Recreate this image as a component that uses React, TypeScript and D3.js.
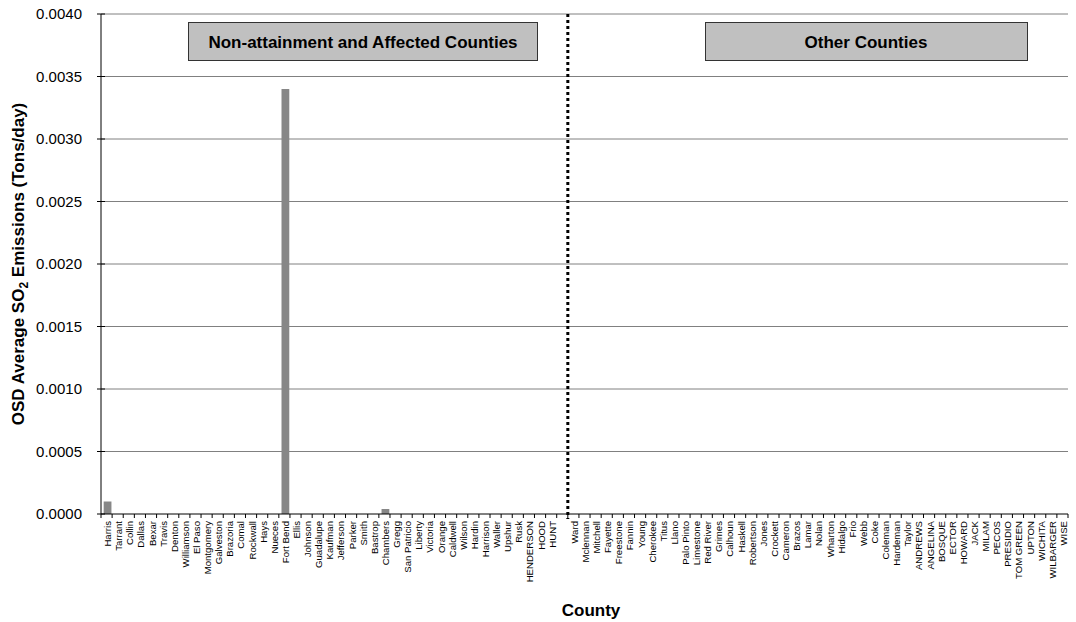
import React from "react";
import * as d3 from "d3";

const leftCounties = [
  "Harris", "Tarrant", "Collin", "Dallas", "Bexar", "Travis", "Denton", "Williamson", "El Paso",
  "Montgomery", "Galveston", "Brazoria", "Comal", "Rockwall", "Hays", "Nueces", "Fort Bend", "Ellis",
  "Johnson", "Guadalupe", "Kaufman", "Jefferson", "Parker", "Smith", "Bastrop", "Chambers", "Gregg",
  "San Patricio", "Liberty", "Victoria", "Orange", "Caldwell", "Wilson", "Hardin", "Harrison", "Waller",
  "Upshur", "Rusk", "HENDERSON", "HOOD", "HUNT",
];
const leftValues = [
  0.0001, 0, 0, 0, 0, 0, 0, 0, 0,
  0, 0, 0, 0, 0, 0, 0, 0.0034, 0,
  0, 0, 0, 0, 0, 0, 0, 0.00004, 0,
  0, 0, 0, 0, 0, 0, 0, 0, 0,
  0, 0, 0, 0, 0,
];
const rightCounties = [
  "Ward", "Mclennan", "Mitchell", "Fayette", "Freestone", "Fannin", "Young", "Cherokee", "Titus", "Llano",
  "Palo Pinto", "Limestone", "Red River", "Grimes", "Calhoun", "Haskell", "Robertson", "Jones", "Crockett",
  "Cameron", "Brazos", "Lamar", "Nolan", "Wharton", "Hidalgo", "Frio", "Webb", "Coke", "Coleman",
  "Hardeman", "Taylor", "ANDREWS", "ANGELINA", "BOSQUE", "ECTOR", "HOWARD", "JACK", "MILAM", "PECOS",
  "PRESIDIO", "TOM GREEN", "UPTON", "WICHITA", "WILBARGER", "WISE",
];
const rightValues = [
  0, 0, 0, 0, 0, 0, 0, 0, 0, 0,
  0, 0, 0, 0, 0, 0, 0, 0, 0,
  0, 0, 0, 0, 0, 0, 0, 0, 0, 0,
  0, 0, 0, 0, 0, 0, 0, 0, 0, 0,
  0, 0, 0, 0, 0, 0,
];
const yTicks = [0, 0.0005, 0.001, 0.0015, 0.002, 0.0025, 0.003, 0.0035, 0.004];
const groupLabels = ["Non-attainment and Affected Counties", "Other Counties"];

const GAP = "__gap";
const categories = [...leftCounties, GAP, ...rightCounties];
const values = [...leftValues, 0, ...rightValues];

const FONT = "Liberation Sans, Arial, sans-serif";

export default function App() {
  const W = 1076, H = 622;
  const left = 101, right = 1068, top = 14, bottom = 514;
  const x = d3.scaleBand<string>().domain(categories).range([left, right]).paddingInner(0.3).paddingOuter(0.15);
  const y = d3.scaleLinear().domain([0, 0.004]).range([bottom, top]);
  const step = x.step();
  const boundaries = d3.range(categories.length + 1).map((i) => left + i * step);
  const dividerX = left + (leftCounties.length + 1) * step;
  const fmt = d3.format(".4f");

  return (
    <svg width={W} height={H} style={{ position: "fixed", left: 0, top: 0, background: "#fff" }} fontFamily={FONT}>
      {yTicks.filter((t) => t > 0).map((t) => (
        <line key={"g" + t} x1={left} x2={right} y1={y(t)} y2={y(t)} stroke="#808080" strokeWidth={1} />
      ))}
      {categories.map((c, i) =>
        c === GAP || values[i] <= 0 ? null : (
          <rect key={"b" + c} x={(x(c) as number) + 1} y={y(values[i])} width={x.bandwidth()} height={bottom - y(values[i])} fill="#878787" />
        )
      )}
      <line x1={left} x2={left} y1={top} y2={bottom} stroke="#000" />
      {yTicks.map((t) => (
        <g key={"y" + t}>
          <line x1={left - 4} x2={left + 4} y1={y(t)} y2={y(t)} stroke="#000" />
          <text x={82} y={y(t)} dy="0.36em" textAnchor="end" fontSize={15}>{fmt(t)}</text>
        </g>
      ))}
      <line x1={left} x2={right} y1={bottom} y2={bottom} stroke="#000" />
      {boundaries.map((bx, i) => (
        <line key={"xt" + i} x1={bx} x2={bx} y1={bottom} y2={bottom + 4} stroke="#000" />
      ))}
      {categories.map((c) =>
        c === GAP ? null : (
          <text
            key={"xl" + c}
            transform={`translate(${(x(c) as number) + x.bandwidth() / 2 + 4.5},${bottom + 7}) rotate(-90)`}
            textAnchor="end"
            fontSize={9.6}
          >
            {c}
          </text>
        )
      )}
      <line x1={dividerX} x2={dividerX} y1={top} y2={bottom + 5} stroke="#000" strokeWidth={3} strokeDasharray="3 3" />
      <rect x={188.5} y={22.5} width={349} height={38} fill="#c0c0c0" stroke="#333" />
      <text x={363} y={42} dy="0.36em" textAnchor="middle" fontSize={17} fontWeight="bold">{groupLabels[0]}</text>
      <rect x={705.5} y={22.5} width={322} height={38} fill="#c0c0c0" stroke="#333" />
      <text x={866} y={42} dy="0.36em" textAnchor="middle" fontSize={17} fontWeight="bold">{groupLabels[1]}</text>
      <text transform={`translate(24,${(top + bottom) / 2}) rotate(-90)`} textAnchor="middle" fontSize={17} fontWeight="bold">
        OSD Average SO<tspan fontSize={12} dy={4}>2</tspan><tspan dy={-4}> Emissions (Tons/day)</tspan>
      </text>
      <text x={591} y={616} textAnchor="middle" fontSize={17} fontWeight="bold">County</text>
    </svg>
  );
}
